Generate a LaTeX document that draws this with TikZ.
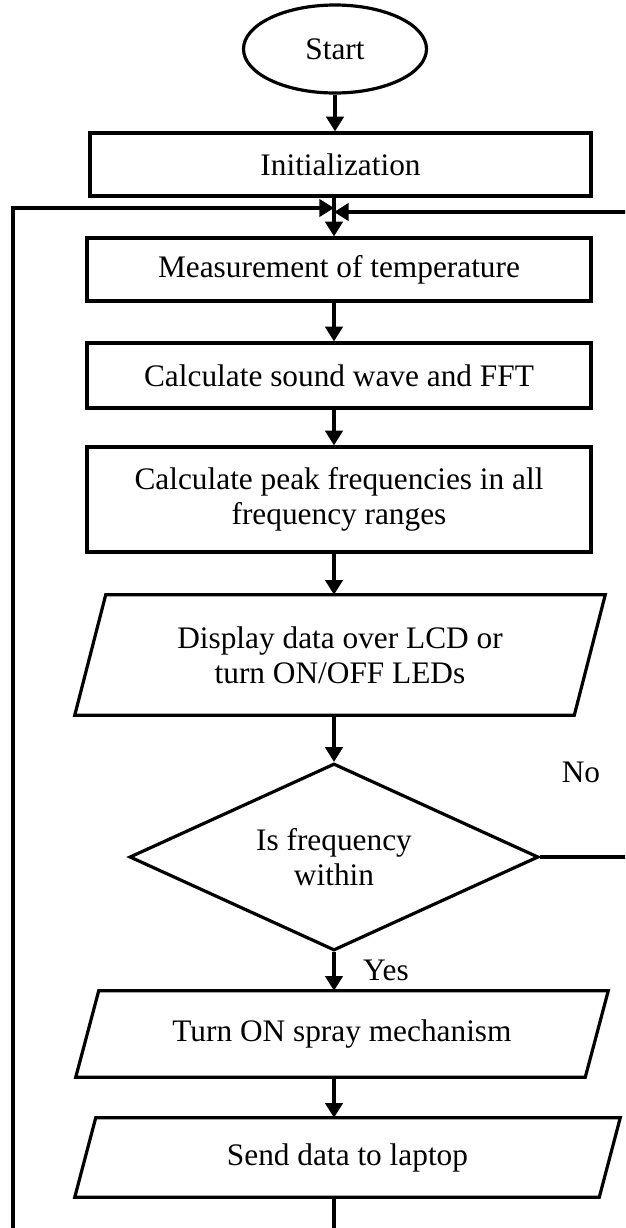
\documentclass[tikz,border=0pt]{standalone}
\usepackage{fontspec}
\setmainfont{Liberation Serif}
\usetikzlibrary{shapes.geometric, arrows.meta, positioning, calc}

% slanted input/output box drawn round a plain node
\newcommand{\ioframe}[2]{%
  \draw[lw] ($(#1.south west)+(-#2,0)$) -- ($(#1.south east)+(-#2,0)$)
    -- ($(#1.north east)+(#2,0)$) -- ($(#1.north west)+(#2,0)$) -- cycle;}

\begin{document}
\begin{tikzpicture}[
  x=0.75pt, y=-0.75pt,
  font=\fontsize{23.5}{26.5}\selectfont,
  lw/.style={line width=2.4pt},
  term/.style={lw, draw, ellipse, inner sep=0pt, minimum width=137.25pt, minimum height=66pt},
  proc/.style={lw, draw, rectangle, inner sep=0pt, align=center, minimum width=378pt},
  io/.style={rectangle, inner sep=0pt, align=center},
  decide/.style={lw, draw, diamond, aspect=2.2, inner sep=0pt, align=center, minimum width=306.75pt, minimum height=140.25pt},
  arr/.style={lw, -{Triangle[length=11pt, width=13pt]}}
]
  \useasboundingbox (0,0) rectangle (625,1228);
  \clip (0,0) rectangle (625,1228);

  \node[term] (start) at (335,49) {Start};
  \node[proc, minimum width=375.75pt, minimum height=47.25pt] (init) at (340.5,164.5) {Initialization};
  \node[proc, minimum height=47.25pt] (meas) at (339,269.5) {Measurement of temperature};
  \node[proc, minimum height=48.75pt] (calc) at (339,375.5) {Calculate sound wave and FFT};
  \node[proc, minimum height=78.75pt] (peak) at (339,499.5) {Calculate peak frequencies in all\\frequency ranges};
  \node[io, minimum width=374.25pt, minimum height=90pt] (disp) at (340,655) {Display data over LCD or\\turn ON/OFF LEDs};
  \node[decide] (dec) at (334,857) {Is frequency\\within};
  \node[io, minimum width=381.75pt, minimum height=64.5pt] (spray) at (342,1034) {Turn ON spray mechanism};
  \node[io, minimum width=393pt, minimum height=59.25pt] (send) at (347.5,1157.5) {Send data to laptop};
  \node (no) at (581,772) {No};
  \node (yes) at (386,970) {Yes};

  \ioframe{disp}{15.5}
  \ioframe{spray}{11.5}
  \ioframe{send}{10.5}

  \coordinate (join) at (334,210);
  \coordinate (tl) at (13,208);
  \coordinate (bl) at (13,1260);
  \coordinate (tr) at (645,212);

  \draw[arr] (start.south) -- (start.south |- init.north);
  \draw[arr] (join |- init.south) -- (join |- meas.north);
  \draw[arr] (join |- meas.south) -- (join |- calc.north);
  \draw[arr] (join |- calc.south) -- (join |- peak.north);
  \draw[arr] (join |- peak.south) -- (join |- disp.north);
  \draw[arr] (join |- disp.south) -- (dec.north);
  \draw[arr] (dec.south) -- (dec.south |- spray.north);
  \draw[arr] (join |- spray.south) -- (join |- send.north);
  \draw[arr] (join |- send.south) |- (bl) -- (tl) -- (tl -| join);
  \draw[arr] (dec.east) -| (tr) -- (tr -| join);
\end{tikzpicture}
\end{document}
